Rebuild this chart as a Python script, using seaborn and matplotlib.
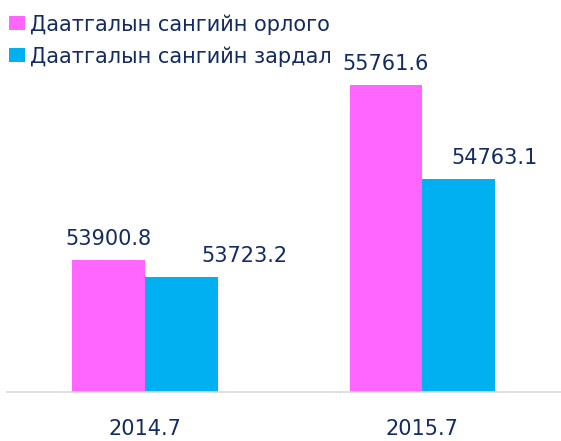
import matplotlib
matplotlib.use("Agg")
import matplotlib.pyplot as plt
import seaborn as sns
import pandas as pd
from matplotlib.patches import Patch

# ------------------------------
# Data
# ------------------------------
periods = ["2014.7", "2015.7"]
series = ["Даатгалын сангийн орлого", "Даатгалын сангийн зардал"]
income = [53900.8, 55761.6]
expense = [53723.2, 54763.1]

colors = ["#FF66FF", "#00B0F0"]
navy = "#132A62"

df = pd.DataFrame({
    "period": periods * 2,
    "series": [series[0]] * len(periods) + [series[1]] * len(periods),
    "value": income + expense,
})

sns.set_theme(style="white")
plt.rcParams["font.family"] = ["DejaVu Sans"]

fig = plt.figure(figsize=(5.61, 4.41), dpi=100)
ax = fig.add_axes([0.0116, 0.1122, 0.9884, 0.745])

sns.barplot(data=df, x="period", y="value", hue="series", palette=colors,
            width=0.525, saturation=1, errorbar=None, linewidth=0,
            legend=False, ax=ax)

ax.set_ylim(52500, 56000)
ax.set_xlim(-0.5, 1.5)
ax.set_yticks([])
ax.set_xlabel("")
ax.set_ylabel("")
for side in ["top", "left", "right"]:
    ax.spines[side].set_visible(False)
ax.spines["bottom"].set_color("#D9D9D9")
ax.spines["bottom"].set_linewidth(1.2)
ax.tick_params(axis="x", length=0, pad=20, labelsize=15, labelcolor=navy)

# value labels (the cyan ones were shifted to the right in the original)
label_dx = [[0, 0], [63, 36]]  # px
for i, cont in enumerate(ax.containers):
    for j, bar in enumerate(cont):
        ax.annotate(f"{bar.get_height():.1f}",
                    xy=(bar.get_x() + bar.get_width() / 2, bar.get_height()),
                    xytext=(label_dx[i][j] * 0.72, 15 * 0.72),
                    textcoords="offset points", ha="center", va="baseline",
                    fontsize=15, color=navy)

handles = [Patch(facecolor=c, edgecolor="none") for c in colors]
fig.legend(handles, series, loc="upper left", bbox_to_anchor=(0.0166, 0.968),
           frameon=False, fontsize=15, handlelength=0.77, handleheight=0.67,
           handletextpad=0.24, labelspacing=0.55, borderpad=0,
           borderaxespad=0, labelcolor=navy)

fig.savefig("out.png", dpi=100)
